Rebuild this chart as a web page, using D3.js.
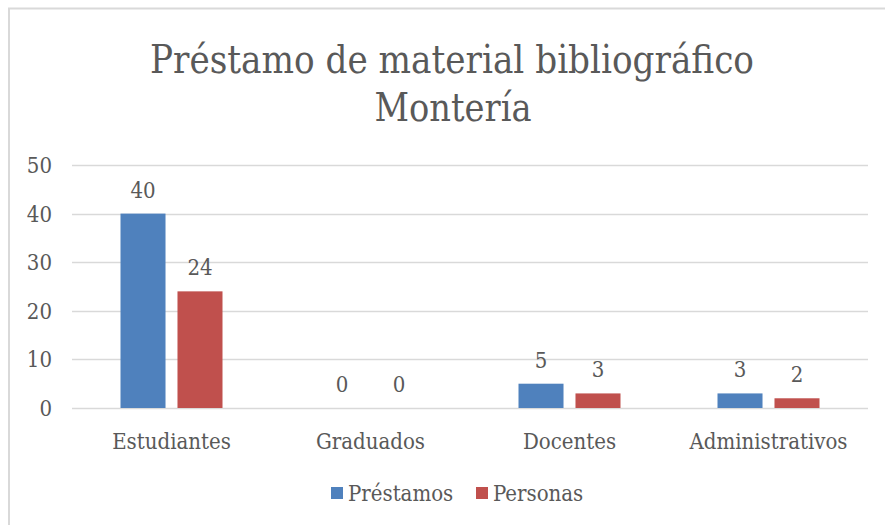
<!DOCTYPE html>
<html>
<head>
<meta charset="utf-8">
<script src="https://cdn.jsdelivr.net/npm/d3@7"></script>
<style>
  body { margin: 0; background: #fff; }
  svg text { font-family: "DejaVu Serif", "Liberation Serif", serif; font-stretch: condensed; fill: #595959; }
</style>
</head>
<body>
<div id="chart"></div>
<script>
// datos
const categorias = ["Estudiantes", "Graduados", "Docentes", "Administrativos"];
const series = ["Préstamos", "Personas"];
const prestamos = [40, 0, 5, 3];
const personas = [24, 0, 3, 2];
const ticksY = [0, 10, 20, 30, 40, 50];
const titulo = ["Préstamo de material bibliográfico", "Montería"];

const width = 885, height = 525;
const colores = ["#4f81bd", "#c0504d"];

const svg = d3.select("#chart").append("svg")
  .attr("width", width)
  .attr("height", height);

// marco del grafico (solo se ven borde superior e izquierdo)
svg.append("rect")
  .attr("x", 9).attr("y", 8.5)
  .attr("width", width + 20).attr("height", height + 20)
  .attr("fill", "none")
  .attr("stroke", "#d9d9d9")
  .attr("stroke-width", 2);

// titulo
svg.append("text")
  .attr("x", 452).attr("y", 73)
  .attr("text-anchor", "middle")
  .attr("font-size", 40)
  .attr("textLength", 604)
  .attr("lengthAdjust", "spacingAndGlyphs")
  .text(titulo[0]);
svg.append("text")
  .attr("x", 453).attr("y", 121)
  .attr("text-anchor", "middle")
  .attr("font-size", 40)
  .attr("textLength", 157)
  .attr("lengthAdjust", "spacingAndGlyphs")
  .text(titulo[1]);

const x0 = d3.scaleBand().domain(categorias).range([72, 868]);
const x1 = d3.scaleBand().domain(series).range([48.5, 150.5]).paddingInner(0.21);
const y = d3.scaleLinear().domain([0, 50]).range([408, 165]);

// lineas de cuadricula
svg.append("g").selectAll("line")
  .data(ticksY)
  .enter().append("line")
  .attr("x1", 72).attr("x2", 868)
  .attr("y1", d => Math.round(y(d)) + 0.5)
  .attr("y2", d => Math.round(y(d)) + 0.5)
  .attr("stroke", "#d9d9d9")
  .attr("stroke-width", 1.5);

// etiquetas eje y
svg.append("g").selectAll("text")
  .data(ticksY)
  .enter().append("text")
  .attr("x", 52)
  .attr("y", d => y(d) + 8)
  .attr("text-anchor", "end")
  .attr("font-size", 22)
  .text(d => d);

// barras
const filas = categorias.map((c, i) => ({ cat: c, vals: [prestamos[i], personas[i]] }));
const grupos = svg.append("g").selectAll("g")
  .data(filas)
  .enter().append("g")
  .attr("transform", d => "translate(" + x0(d.cat) + ",0)");

grupos.selectAll("rect")
  .data(d => d.vals.map((v, j) => ({ s: series[j], v: v, j: j })))
  .enter().append("rect")
  .attr("x", d => x1(d.s))
  .attr("y", d => y(d.v))
  .attr("width", x1.bandwidth())
  .attr("height", d => y(0) - y(d.v))
  .attr("fill", d => colores[d.j]);

grupos.selectAll("text")
  .data(d => d.vals.map((v, j) => ({ s: series[j], v: v, j: j })))
  .enter().append("text")
  .attr("x", d => x1(d.s) + x1.bandwidth() / 2)
  .attr("y", d => y(d.v) - 16)
  .attr("text-anchor", "middle")
  .attr("font-size", 22)
  .text(d => d.v);

// etiquetas categorias
svg.append("g").selectAll("text")
  .data(categorias)
  .enter().append("text")
  .attr("x", d => x0(d) + x0.bandwidth() / 2)
  .attr("y", 449)
  .attr("text-anchor", "middle")
  .attr("font-size", 22)
  .text(d => d);

// leyenda
const leyenda = svg.append("g");
const posLeyenda = [331, 476];
series.forEach((s, i) => {
  leyenda.append("rect")
    .attr("x", posLeyenda[i]).attr("y", 487)
    .attr("width", 12).attr("height", 12)
    .attr("fill", colores[i]);
  leyenda.append("text")
    .attr("x", posLeyenda[i] + 17).attr("y", 501)
    .attr("font-size", 22)
    .text(s);
});
</script>
</body>
</html>
